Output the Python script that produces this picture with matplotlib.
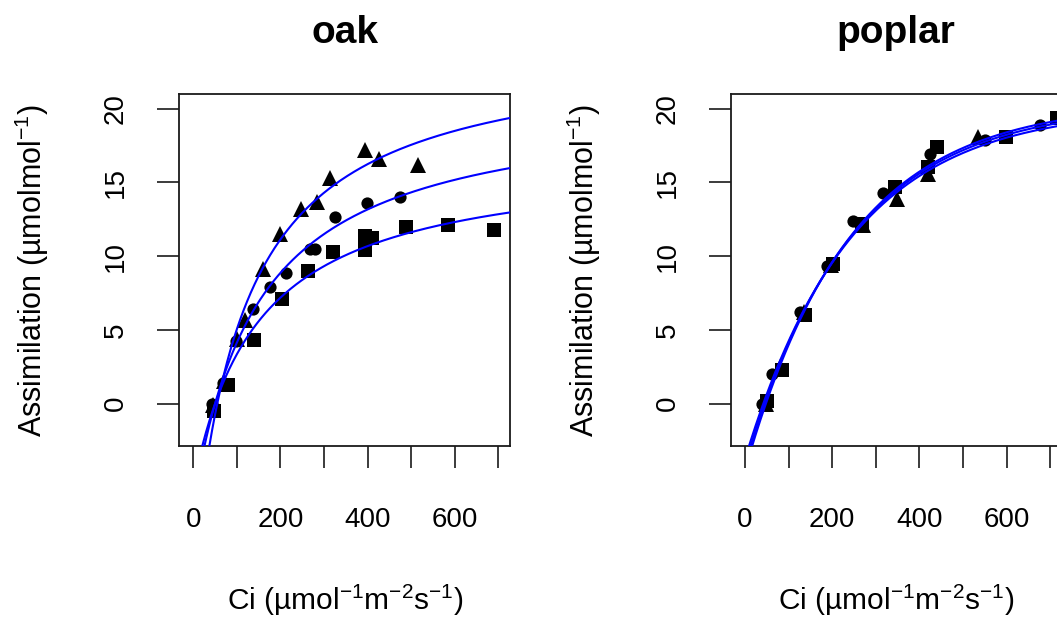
import numpy as np
import matplotlib
matplotlib.use("Agg")
import matplotlib.pyplot as plt

plt.rcParams['font.family'] = ['Liberation Sans', 'DejaVu Sans']
plt.rcParams['mathtext.fontset'] = 'custom'
plt.rcParams['mathtext.rm'] = 'Liberation Sans'
plt.rcParams['mathtext.it'] = 'Liberation Sans'
plt.rcParams['mathtext.default'] = 'regular'

# ---------------- data ----------------
panel_titles = ["oak", "poplar"]

# oak observations
oak_tri_x = [45, 70, 100, 118, 160, 198, 246, 284, 314, 394, 425, 515]
oak_tri_y = [-0.1, 1.5, 4.4, 5.7, 9.1, 11.5, 13.2, 13.7, 15.3, 17.2, 16.6, 16.2]
oak_cir_x = [42, 68, 97, 138, 176, 213, 268, 278, 325, 399, 474]
oak_cir_y = [-0.05, 1.4, 4.25, 6.4, 7.9, 8.85, 10.5, 10.5, 12.65, 13.6, 14.0]
oak_sq_x = [47, 80, 139, 203, 262, 321, 394, 394, 409, 488, 585, 690]
oak_sq_y = [-0.5, 1.25, 4.3, 7.1, 9.0, 10.3, 10.45, 11.35, 11.2, 11.95, 12.1, 11.8]

# poplar observations
pop_tri_x = [48, 80, 135, 198, 271, 348, 420, 535]
pop_tri_y = [0.0, 2.5, 6.2, 9.4, 12.1, 13.9, 15.6, 18.1]
pop_cir_x = [38, 61, 126, 187, 248, 317, 424, 550, 677]
pop_cir_y = [0.0, 2.0, 6.2, 9.3, 12.4, 14.3, 16.95, 17.85, 18.9]
pop_sq_x = [50, 84, 138, 201, 268, 344, 420, 440, 598, 715]
pop_sq_y = [0.2, 2.3, 6.0, 9.5, 12.2, 14.7, 16.05, 17.4, 18.1, 19.4]

# fitted curve parameters
# oak: A = a * (Ci - g) / (Ci + k)
oak_fit_a = [24.33, 20.7, 16.82]
oak_fit_g = [55, 50, 50]
oak_fit_k = [116.7, 150, 151]
# poplar: A = a * (1 - exp(-(Ci - g) / b))
pop_fit_a = [20.1, 20.28, 20.45]
pop_fit_g = [42, 45, 48]
pop_fit_b = [245, 242, 240]

x_ticks = [0, 100, 200, 300, 400, 500, 600, 700]
x_tick_labels = ["0", "", "200", "", "400", "", "600", ""]
y_ticks = [0, 5, 10, 15, 20]
y_tick_labels = ["0", "5", "10", "15", "20"]
xlim = (-32.8, 726.4)
ylim = (-2.88, 21.0)

ylabel_txt = "Assimilation (µmolmol$^{-1}$)"
xlabel_txt = "Ci (µmol$^{-1}$m$^{-2}$s$^{-1}$)"

# ---------------- figure ----------------
W, H = 1057, 620
fig = plt.figure(figsize=(W / 100, H / 100), dpi=100)

def px_ax(l, r, t, b):
    return [l / W, (H - b) / H, (r - l) / W, (b - t) / H]

ax1 = fig.add_axes(px_ax(179, 510, 94, 446))
ax2 = fig.add_axes(px_ax(730.7, 1061.7, 94, 446))

xs = np.linspace(xlim[0], xlim[1], 600)

def style(ax):
    ax.set_xlim(*xlim)
    ax.set_ylim(*ylim)
    ax.set_xticks(x_ticks)
    ax.set_xticklabels(x_tick_labels)
    ax.set_yticks(y_ticks)
    ax.set_yticklabels(y_tick_labels, rotation=90, va='center')
    ax.tick_params(axis='both', length=16, width=1.2, labelsize=20, color='#1a1a1a')
    ax.tick_params(axis='y', pad=20)
    ax.tick_params(axis='x', pad=28)
    for sp in ax.spines.values():
        sp.set_linewidth(1.3)
        sp.set_color('#1a1a1a')

mk = dict(color='black', linestyle='none', markeredgewidth=0)

# oak
ax1.plot(oak_tri_x, oak_tri_y, marker='^', markersize=11, **mk)
ax1.plot(oak_cir_x, oak_cir_y, marker='o', markersize=8.8, **mk)
ax1.plot(oak_sq_x, oak_sq_y, marker='s', markersize=9.8, **mk)
for a, g, k in zip(oak_fit_a, oak_fit_g, oak_fit_k):
    ax1.plot(xs, a * (xs - g) / (xs + k), color='#0000FF', lw=1.5, zorder=5)

# poplar
ax2.plot(pop_tri_x, pop_tri_y, marker='^', markersize=11, **mk)
ax2.plot(pop_cir_x, pop_cir_y, marker='o', markersize=8.8, **mk)
ax2.plot(pop_sq_x, pop_sq_y, marker='s', markersize=9.8, **mk)
for a, g, b in zip(pop_fit_a, pop_fit_g, pop_fit_b):
    ax2.plot(xs, a * (1 - np.exp(-(xs - g) / b)), color='#0000FF', lw=1.5, zorder=5)

style(ax1)
style(ax2)

# titles and axis labels placed at pixel positions
for cx, left, title in [(345, 179, panel_titles[0]), (896, 730.7, panel_titles[1])]:
    fig.text(cx / W, 1 - 33 / H, title, ha='center', va='center',
             fontsize=28, fontweight='bold')
    fig.text(cx / W, 1 - 600 / H, xlabel_txt, ha='center', va='center', fontsize=21.5)
    fig.text((left - 147) / W, 1 - 270 / H, ylabel_txt, ha='center', va='center',
             rotation=90, fontsize=22)

fig.savefig("out.png", dpi=100)
